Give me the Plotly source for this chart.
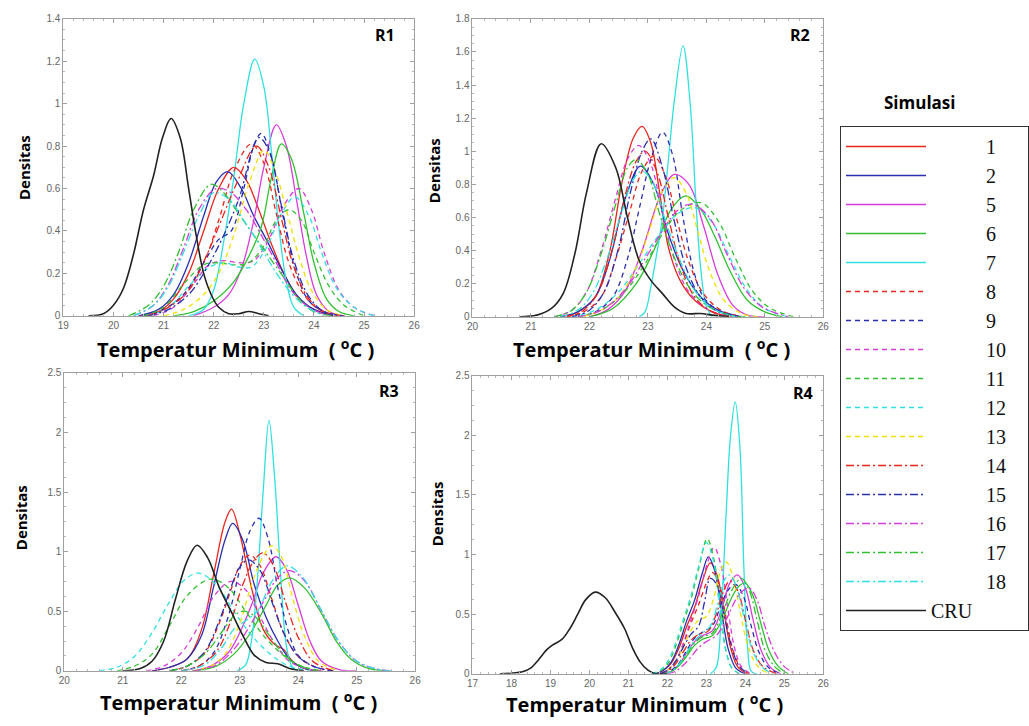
import plotly.graph_objects as go

W, H = 1029, 726

LABELS = ["1", "2", "5", "6", "7", "8", "9", "10", "11", "12", "13",
          "14", "15", "16", "17", "18", "CRU"]
COLORS = ["#e8261e", "#2a2fb0", "#d83cd8", "#30c030", "#30e0e0",
          "#e8261e", "#2a2fb0", "#d83cd8", "#30c030", "#30e0e0", "#f0e000",
          "#e8261e", "#2a2fb0", "#d83cd8", "#30c030", "#30e0e0", "#222222"]
DASHES = ["solid"] * 5 + ["5px,4px"] * 6 + ["8px,3px,2px,3px"] * 5 + ["solid"]

# ---------------- R1 (x, density) ----------------
R1_S1 = [(20.5,0),(20.9,0.02),(21.2,0.08),(21.5,0.2),(21.8,0.4),(22.1,0.6),(22.4,0.7),(22.65,0.64),(22.9,0.5),(23.15,0.34),(23.4,0.2),(23.7,0.08),(24.0,0.03),(24.4,0.0)]
R1_S2 = [(20.5,0),(20.9,0.03),(21.2,0.1),(21.5,0.25),(21.8,0.47),(22.05,0.63),(22.28,0.68),(22.55,0.6),(22.8,0.47),(23.05,0.36),(23.35,0.22),(23.65,0.1),(24.0,0.03),(24.4,0)]
R1_S5 = [(21.6,0),(22.0,0.04),(22.3,0.1),(22.55,0.22),(22.8,0.45),(23.0,0.7),(23.25,0.9),(23.45,0.8),(23.65,0.55),(23.85,0.28),(24.05,0.1),(24.3,0.02),(24.6,0)]
R1_S6 = [(21.2,0),(21.6,0.02),(22.0,0.07),(22.4,0.16),(22.7,0.28),(22.95,0.42),(23.15,0.65),(23.35,0.81),(23.55,0.74),(23.8,0.48),(24.0,0.25),(24.25,0.08),(24.5,0.02),(24.8,0)]
R1_S7 = [(21.5,0),(21.8,0.03),(22.0,0.12),(22.2,0.35),(22.4,0.65),(22.6,1.0),(22.82,1.21),(23.0,1.08),(23.15,0.78),(23.3,0.42),(23.45,0.16),(23.6,0.04),(23.8,0)]
R1_S8 = [(20.6,0),(21.0,0.03),(21.4,0.1),(21.8,0.25),(22.1,0.45),(22.4,0.68),(22.75,0.81),(23.0,0.72),(23.25,0.48),(23.5,0.25),(23.8,0.1),(24.1,0.03),(24.5,0)]
R1_S9 = [(20.6,0),(21.0,0.03),(21.4,0.1),(21.8,0.25),(22.1,0.36),(22.35,0.4),(22.6,0.6),(22.8,0.8),(22.95,0.86),(23.15,0.75),(23.4,0.45),(23.65,0.2),(23.9,0.07),(24.2,0.02),(24.6,0)]
R1_S10 = [(20.8,0),(21.2,0.04),(21.6,0.15),(21.9,0.24),(22.2,0.26),(22.5,0.25),(22.8,0.26),(23.1,0.36),(23.4,0.52),(23.7,0.6),(23.95,0.5),(24.2,0.3),(24.5,0.12),(24.8,0.04),(25.2,0)]
R1_S11 = [(20.6,0),(21.0,0.04),(21.4,0.15),(21.8,0.24),(22.1,0.25),(22.4,0.24),(22.7,0.25),(23.0,0.33),(23.25,0.45),(23.5,0.5),(23.75,0.45),(24.0,0.3),(24.3,0.14),(24.6,0.05),(25.0,0)]
R1_S12 = [(20.7,0),(21.1,0.04),(21.5,0.14),(21.85,0.22),(22.2,0.25),(22.5,0.23),(22.75,0.23),(23.05,0.32),(23.35,0.48),(23.62,0.56),(23.9,0.47),(24.15,0.3),(24.45,0.13),(24.8,0.04),(25.2,0)]
R1_S13 = [(21.0,0),(21.4,0.03),(21.8,0.1),(22.1,0.2),(22.4,0.38),(22.7,0.62),(23.0,0.78),(23.2,0.7),(23.45,0.5),(23.7,0.28),(23.95,0.12),(24.25,0.03),(24.6,0)]
R1_S14 = [(20.7,0),(21.1,0.04),(21.5,0.12),(21.85,0.28),(22.15,0.45),(22.45,0.62),(22.85,0.8),(23.1,0.7),(23.35,0.46),(23.6,0.23),(23.9,0.08),(24.2,0.02),(24.6,0)]
R1_S15 = [(20.7,0),(21.1,0.03),(21.5,0.1),(21.85,0.22),(22.2,0.38),(22.5,0.55),(22.9,0.84),(23.1,0.78),(23.35,0.52),(23.6,0.26),(23.9,0.09),(24.2,0.02),(24.6,0)]
R1_S16 = [(20.4,0),(20.8,0.05),(21.1,0.15),(21.4,0.32),(21.7,0.5),(22.05,0.6),(22.35,0.58),(22.65,0.5),(22.95,0.38),(23.25,0.25),(23.55,0.12),(23.9,0.04),(24.3,0)]
R1_S17 = [(20.3,0),(20.7,0.05),(21.0,0.14),(21.3,0.3),(21.6,0.5),(21.95,0.62),(22.2,0.58),(22.5,0.48),(22.8,0.38),(23.1,0.28),(23.4,0.18),(23.7,0.08),(24.0,0.02),(24.4,0)]
R1_S18 = [(20.4,0),(20.8,0.05),(21.1,0.14),(21.4,0.3),(21.7,0.47),(22.0,0.58),(22.3,0.55),(22.6,0.45),(22.9,0.34),(23.2,0.22),(23.5,0.12),(23.8,0.05),(24.2,0)]
R1_CRU = [(19.5,0),(19.8,0.01),(20.0,0.05),(20.2,0.13),(20.4,0.29),(20.6,0.5),(20.8,0.66),(20.98,0.84),(21.15,0.93),(21.33,0.84),(21.5,0.6),(21.65,0.38),(21.8,0.2),(21.95,0.1),(22.1,0.04),(22.3,0.01),(22.5,0.01),(22.7,0.02),(22.9,0.01),(23.1,0.0)]

# ---------------- R2 ----------------
R2_S1 = [(21.5,0),(21.8,0.03),(22.1,0.12),(22.35,0.4),(22.55,0.8),(22.75,1.08),(22.9,1.15),(23.05,1.05),(23.2,0.75),(23.35,0.42),(23.55,0.22),(23.8,0.1),(24.1,0.03),(24.4,0)]
R2_S2 = [(21.5,0),(21.8,0.03),(22.1,0.12),(22.35,0.35),(22.6,0.7),(22.87,0.91),(23.1,0.8),(23.35,0.5),(23.6,0.28),(23.9,0.12),(24.2,0.04),(24.6,0)]
R2_S5 = [(22.0,0),(22.3,0.04),(22.6,0.15),(22.9,0.4),(23.2,0.72),(23.45,0.86),(23.7,0.8),(23.95,0.55),(24.2,0.25),(24.45,0.07),(24.7,0.01),(25.0,0)]
R2_S6 = [(22.0,0),(22.4,0.05),(22.8,0.2),(23.1,0.4),(23.4,0.65),(23.65,0.73),(23.9,0.65),(24.15,0.48),(24.4,0.28),(24.7,0.1),(25.0,0.03),(25.3,0)]
R2_S7 = [(22.85,0),(22.95,0.03),(23.05,0.18),(23.15,0.38),(23.25,0.6),(23.35,0.95),(23.45,1.3),(23.6,1.636),(23.72,1.3),(23.82,0.7),(23.9,0.3),(24.0,0.06),(24.1,0)]
R2_S8 = [(21.6,0),(21.9,0.03),(22.2,0.12),(22.45,0.35),(22.7,0.65),(22.9,0.88),(23.1,0.97),(23.3,0.85),(23.5,0.58),(23.7,0.33),(23.95,0.14),(24.25,0.04),(24.6,0)]
R2_S9 = [(21.8,0),(22.1,0.03),(22.4,0.12),(22.65,0.35),(22.85,0.65),(23.05,0.95),(23.25,1.115),(23.42,0.98),(23.6,0.6),(23.78,0.28),(23.95,0.12),(24.2,0.04),(24.6,0)]
R2_S10 = [(21.4,0),(21.7,0.04),(21.95,0.15),(22.2,0.4),(22.45,0.72),(22.65,0.95),(22.84,1.035),(23.05,0.92),(23.25,0.62),(23.45,0.35),(23.7,0.15),(24.0,0.05),(24.4,0)]
R2_S11 = [(21.8,0),(22.2,0.04),(22.6,0.15),(22.95,0.32),(23.25,0.5),(23.55,0.64),(23.9,0.69),(24.2,0.58),(24.5,0.35),(24.8,0.15),(25.1,0.05),(25.5,0)]
R2_S12 = [(21.7,0),(22.1,0.04),(22.5,0.15),(22.85,0.32),(23.2,0.5),(23.5,0.62),(23.8,0.66),(24.1,0.57),(24.4,0.36),(24.7,0.16),(25.0,0.05),(25.4,0)]
R2_S13 = [(21.9,0),(22.2,0.04),(22.5,0.12),(22.8,0.3),(23.05,0.55),(23.25,0.76),(23.45,0.84),(23.65,0.75),(23.85,0.52),(24.05,0.28),(24.3,0.1),(24.6,0.02),(24.9,0)]
R2_S14 = [(21.6,0),(21.9,0.04),(22.15,0.15),(22.4,0.42),(22.6,0.72),(22.8,0.94),(22.95,1.0),(23.15,0.88),(23.35,0.6),(23.55,0.32),(23.8,0.12),(24.1,0.03),(24.5,0)]
R2_S15 = [(21.7,0),(22.0,0.04),(22.25,0.15),(22.5,0.42),(22.7,0.75),(22.9,1.0),(23.05,1.075),(23.25,0.9),(23.45,0.58),(23.65,0.3),(23.9,0.12),(24.2,0.03),(24.6,0)]
R2_S16 = [(21.8,0),(22.2,0.04),(22.6,0.16),(22.95,0.35),(23.25,0.52),(23.5,0.64),(23.75,0.68),(24.05,0.6),(24.35,0.38),(24.65,0.17),(24.95,0.06),(25.4,0)]
R2_S17 = [(21.4,0),(21.7,0.04),(21.95,0.15),(22.2,0.38),(22.45,0.68),(22.65,0.9),(22.8,0.95),(23.0,0.86),(23.2,0.62),(23.45,0.36),(23.7,0.18),(24.0,0.07),(24.4,0.01),(24.8,0)]
R2_S18 = [(21.5,0),(21.8,0.04),(22.05,0.14),(22.3,0.35),(22.55,0.63),(22.75,0.83),(22.9,0.88),(23.1,0.8),(23.3,0.58),(23.55,0.34),(23.8,0.16),(24.1,0.05),(24.5,0)]
R2_CRU = [(20.8,0),(21.1,0.01),(21.35,0.05),(21.55,0.14),(21.75,0.38),(21.95,0.75),(22.2,1.045),(22.45,0.9),(22.65,0.6),(22.85,0.34),(23.05,0.22),(23.25,0.14),(23.45,0.06),(23.65,0.02),(23.9,0.02),(24.1,0.01),(24.4,0)]

# ---------------- R3 ----------------
R3_S1 = [(21.5,0),(21.8,0.03),(22.1,0.1),(22.35,0.35),(22.55,0.8),(22.75,1.25),(22.86,1.356),(23.0,1.15),(23.2,0.7),(23.4,0.35),(23.6,0.22),(23.75,0.18),(23.9,0.08),(24.1,0.02),(24.4,0)]
R3_S2 = [(21.5,0),(21.8,0.03),(22.1,0.1),(22.35,0.3),(22.55,0.7),(22.75,1.1),(22.88,1.237),(23.05,1.1),(23.25,0.72),(23.45,0.45),(23.65,0.25),(23.85,0.1),(24.05,0.03),(24.3,0)]
R3_S5 = [(22.2,0),(22.5,0.04),(22.8,0.15),(23.0,0.32),(23.2,0.55),(23.4,0.82),(23.62,0.957),(23.8,0.85),(24.0,0.55),(24.2,0.25),(24.4,0.08),(24.7,0.01),(25.0,0)]
R3_S6 = [(22.2,0),(22.6,0.04),(22.9,0.14),(23.2,0.33),(23.45,0.55),(23.65,0.72),(23.85,0.78),(24.1,0.7),(24.4,0.48),(24.65,0.25),(24.9,0.1),(25.2,0.02),(25.5,0)]
R3_S7 = [(22.95,0),(23.1,0.05),(23.2,0.25),(23.3,0.75),(23.4,1.5),(23.5,2.1),(23.6,1.6),(23.7,0.8),(23.8,0.2),(23.9,0.03),(24.0,0)]
R3_S8 = [(21.8,0),(22.1,0.04),(22.4,0.15),(22.65,0.4),(22.85,0.68),(23.0,0.88),(23.17,0.97),(23.35,0.88),(23.55,0.6),(23.75,0.32),(24.0,0.12),(24.3,0.03),(24.6,0)]
R3_S9 = [(22.0,0),(22.3,0.04),(22.55,0.15),(22.8,0.45),(23.0,0.85),(23.18,1.18),(23.33,1.28),(23.48,1.12),(23.65,0.7),(23.82,0.35),(24.0,0.13),(24.3,0.03),(24.6,0)]
R3_S10 = [(21.4,0),(21.7,0.04),(22.0,0.15),(22.3,0.38),(22.55,0.62),(22.85,0.75),(23.1,0.68),(23.35,0.45),(23.6,0.23),(23.85,0.08),(24.2,0.01),(24.5,0)]
R3_S11 = [(20.9,0),(21.2,0.04),(21.5,0.14),(21.8,0.38),(22.1,0.63),(22.5,0.77),(22.8,0.7),(23.1,0.5),(23.4,0.3),(23.7,0.15),(24.0,0.05),(24.4,0)]
R3_S12 = [(20.6,0),(20.9,0.03),(21.2,0.12),(21.5,0.32),(21.8,0.58),(22.05,0.76),(22.3,0.82),(22.6,0.72),(22.9,0.5),(23.2,0.3),(23.5,0.15),(23.8,0.05),(24.2,0)]
R3_S13 = [(22.2,0),(22.5,0.04),(22.75,0.14),(23.0,0.4),(23.2,0.72),(23.4,0.96),(23.55,1.05),(23.72,0.95),(23.9,0.62),(24.1,0.3),(24.35,0.08),(24.7,0)]
R3_S14 = [(22.0,0),(22.3,0.04),(22.6,0.16),(22.85,0.42),(23.05,0.72),(23.25,0.93),(23.4,0.99),(23.58,0.88),(23.78,0.58),(24.0,0.28),(24.25,0.08),(24.6,0)]
R3_S15 = [(21.8,0),(22.1,0.04),(22.4,0.16),(22.65,0.42),(22.85,0.7),(23.0,0.87),(23.15,0.93),(23.35,0.84),(23.55,0.58),(23.75,0.32),(24.0,0.12),(24.3,0.03),(24.6,0)]
R3_S16 = [(22.2,0),(22.6,0.05),(22.9,0.18),(23.2,0.4),(23.45,0.62),(23.65,0.78),(23.85,0.84),(24.1,0.76),(24.4,0.5),(24.7,0.24),(25.0,0.08),(25.3,0.02),(25.6,0)]
R3_S17 = [(21.8,0),(22.1,0.04),(22.4,0.14),(22.7,0.33),(22.9,0.46),(23.05,0.5),(23.25,0.46),(23.5,0.3),(23.75,0.14),(24.0,0.05),(24.3,0)]
R3_S18 = [(22.0,0),(22.4,0.05),(22.7,0.2),(22.9,0.35),(23.1,0.42),(23.3,0.5),(23.55,0.75),(23.8,0.88),(24.05,0.8),(24.35,0.55),(24.65,0.28),(24.95,0.1),(25.3,0.02),(25.6,0)]
R3_CRU = [(21.0,0),(21.3,0.02),(21.5,0.08),(21.7,0.25),(21.9,0.6),(22.1,0.92),(22.27,1.054),(22.45,0.95),(22.65,0.7),(22.85,0.5),(23.05,0.3),(23.25,0.13),(23.45,0.07),(23.65,0.06),(23.85,0.02),(24.1,0)]

# ---------------- R4 ----------------
R4_S1 = [(21.7,0),(21.9,0.03),(22.1,0.09),(22.3,0.22),(22.5,0.4),(22.7,0.56),(22.9,0.78),(23.1,0.93),(23.28,0.82),(23.45,0.52),(23.62,0.22),(23.8,0.06),(24.05,0)]
R4_S2 = [(21.7,0),(21.9,0.03),(22.1,0.1),(22.3,0.25),(22.5,0.45),(22.7,0.62),(22.9,0.85),(23.05,0.98),(23.2,0.88),(23.38,0.55),(23.55,0.22),(23.75,0.05),(24.0,0)]
R4_S5 = [(21.9,0),(22.1,0.02),(22.3,0.08),(22.5,0.18),(22.7,0.27),(22.9,0.32),(23.15,0.36),(23.4,0.55),(23.6,0.76),(23.8,0.83),(24.0,0.72),(24.2,0.45),(24.4,0.2),(24.65,0.05),(24.9,0)]
R4_S6 = [(21.9,0),(22.1,0.02),(22.3,0.07),(22.5,0.15),(22.7,0.24),(22.9,0.29),(23.15,0.32),(23.4,0.45),(23.65,0.64),(23.85,0.74),(24.0,0.76),(24.2,0.65),(24.4,0.42),(24.6,0.2),(24.85,0.06),(25.1,0)]
R4_S7 = [(23.1,0),(23.25,0.05),(23.38,0.5),(23.5,1.3),(23.62,2.0),(23.74,2.28),(23.86,1.9),(23.96,0.9),(24.05,0.25),(24.15,0.02),(24.3,0)]
R4_S8 = [(21.8,0),(22.0,0.03),(22.2,0.1),(22.4,0.24),(22.6,0.42),(22.8,0.58),(23.0,0.76),(23.15,0.85),(23.32,0.76),(23.5,0.48),(23.68,0.2),(23.88,0.05),(24.1,0)]
R4_S9 = [(21.9,0),(22.1,0.03),(22.3,0.09),(22.5,0.2),(22.7,0.3),(22.9,0.35),(23.15,0.4),(23.4,0.6),(23.6,0.72),(23.75,0.75),(23.95,0.65),(24.15,0.4),(24.35,0.18),(24.6,0.05),(24.9,0)]
R4_S10 = [(21.8,0),(22.0,0.03),(22.2,0.1),(22.4,0.25),(22.6,0.45),(22.8,0.65),(23.0,0.9),(23.2,1.06),(23.38,0.9),(23.55,0.55),(23.72,0.22),(23.9,0.06),(24.15,0)]
R4_S11 = [(21.6,0),(21.8,0.02),(22.0,0.08),(22.2,0.22),(22.4,0.42),(22.6,0.62),(22.8,0.88),(23.02,1.133),(23.2,0.95),(23.35,0.55),(23.5,0.2),(23.65,0.05),(23.85,0)]
R4_S12 = [(21.6,0),(21.8,0.03),(22.0,0.1),(22.2,0.25),(22.4,0.45),(22.6,0.65),(22.8,0.9),(23.0,1.1),(23.18,0.95),(23.33,0.58),(23.48,0.22),(23.65,0.05),(23.85,0)]
R4_S13 = [(21.8,0),(22.0,0.03),(22.2,0.1),(22.4,0.22),(22.6,0.36),(22.8,0.45),(23.0,0.48),(23.2,0.65),(23.35,0.85),(23.5,0.94),(23.65,0.85),(23.85,0.55),(24.05,0.25),(24.3,0.07),(24.6,0)]
R4_S14 = [(21.8,0),(22.0,0.02),(22.2,0.08),(22.4,0.18),(22.6,0.28),(22.8,0.33),(23.05,0.36),(23.25,0.5),(23.45,0.7),(23.6,0.78),(23.8,0.7),(24.0,0.45),(24.2,0.2),(24.45,0.06),(24.8,0)]
R4_S15 = [(21.8,0),(22.0,0.03),(22.2,0.1),(22.4,0.22),(22.6,0.33),(22.8,0.4),(22.95,0.6),(23.1,0.8),(23.28,0.74),(23.45,0.5),(23.65,0.22),(23.85,0.06),(24.1,0)]
R4_S16 = [(22.0,0),(22.2,0.02),(22.4,0.07),(22.6,0.14),(22.8,0.22),(23.0,0.27),(23.25,0.32),(23.5,0.45),(23.75,0.62),(23.95,0.7),(24.1,0.72),(24.3,0.62),(24.5,0.4),(24.75,0.18),(25.0,0.06),(25.3,0)]
R4_S17 = [(21.9,0),(22.1,0.02),(22.3,0.08),(22.5,0.17),(22.7,0.26),(22.9,0.31),(23.15,0.34),(23.4,0.5),(23.65,0.7),(23.9,0.8),(24.1,0.7),(24.3,0.45),(24.5,0.2),(24.75,0.06),(25.0,0)]
R4_S18 = [(21.9,0),(22.1,0.02),(22.3,0.08),(22.5,0.18),(22.7,0.28),(22.9,0.34),(23.1,0.4),(23.3,0.6),(23.45,0.78),(23.6,0.83),(23.78,0.72),(23.98,0.45),(24.2,0.18),(24.45,0.05),(24.7,0)]
R4_CRU = [(17.7,0),(18.0,0.005),(18.3,0.02),(18.5,0.05),(18.7,0.12),(18.9,0.2),(19.05,0.24),(19.3,0.29),(19.5,0.38),(19.7,0.5),(19.9,0.62),(20.15,0.685),(20.4,0.64),(20.65,0.52),(20.9,0.38),(21.1,0.22),(21.3,0.1),(21.5,0.03),(21.7,0.0),(22.0,0.0)]

PANELS = [
    ("R1", [R1_S1, R1_S2, R1_S5, R1_S6, R1_S7, R1_S8, R1_S9, R1_S10, R1_S11, R1_S12, R1_S13, R1_S14, R1_S15, R1_S16, R1_S17, R1_S18, R1_CRU]),
    ("R2", [R2_S1, R2_S2, R2_S5, R2_S6, R2_S7, R2_S8, R2_S9, R2_S10, R2_S11, R2_S12, R2_S13, R2_S14, R2_S15, R2_S16, R2_S17, R2_S18, R2_CRU]),
    ("R3", [R3_S1, R3_S2, R3_S5, R3_S6, R3_S7, R3_S8, R3_S9, R3_S10, R3_S11, R3_S12, R3_S13, R3_S14, R3_S15, R3_S16, R3_S17, R3_S18, R3_CRU]),
    ("R4", [R4_S1, R4_S2, R4_S5, R4_S6, R4_S7, R4_S8, R4_S9, R4_S10, R4_S11, R4_S12, R4_S13, R4_S14, R4_S15, R4_S16, R4_S17, R4_S18, R4_CRU]),
]
X_RANGES = [[19, 26], [20, 26], [20, 26], [17, 26]]
Y_RANGES = [[0, 1.4], [0, 1.8], [0, 2.5], [0, 2.5]]
Y_DTICK = [0.2, 0.2, 0.5, 0.5]

# panel boxes in pixels: left, right, top, bottom
BOXES = [(58, 413, 13, 315), (472, 827, 13, 316), (59, 414, 373, 676), (472, 827, 376, 679)]

NB = "\u00a0"

fig = go.Figure()

for p, (name, series) in enumerate(PANELS):
    ax = "" if p == 0 else str(p + 1)
    for i, pts in enumerate(series):
        xs = [a for a, b in pts]
        ys = [b for a, b in pts]
        is_cru = LABELS[i] == "CRU"
        lab = LABELS[i] + NB * 10 if is_cru else NB * 11 + LABELS[i]
        fig.add_trace(go.Scatter(
            x=xs, y=ys, mode="lines", name=lab,
            line=dict(color=COLORS[i], dash=DASHES[i], width=1.6 if is_cru else 1.3,
                      shape="spline", smoothing=1.0),
            xaxis="x" + ax, yaxis="y" + ax,
            legendgroup=LABELS[i], showlegend=(p == 0),
            hoverinfo="skip",
        ))

def px_x(v):
    return v / W

def px_y(v):
    return 1 - v / H

layout = dict(
    width=W, height=H, margin=dict(l=0, r=0, t=0, b=0),
    paper_bgcolor="white", plot_bgcolor="white",
    showlegend=True,
    legend=dict(x=px_x(844), y=px_y(122), xanchor="left", yanchor="top",
                bordercolor="#333", borderwidth=1, bgcolor="white",
                font=dict(family="Liberation Serif", size=20, color="#111"),
                itemwidth=80, tracegroupgap=0),
)

tickfont = dict(family="Liberation Sans", size=10, color="#666")
for p in range(4):
    l, r, t, b = BOXES[p]
    ax = "" if p == 0 else str(p + 1)
    common = dict(showline=True, linecolor="#a0a0a0", linewidth=1, mirror="ticks",
                  ticks="inside", ticklen=4, tickcolor="#a0a0a0", showgrid=False,
                  zeroline=False, tickfont=tickfont)
    layout["xaxis" + ax] = dict(common, domain=[px_x(l), px_x(r)], range=X_RANGES[p],
                                dtick=1, anchor="y" + ax,
                                minor=dict(dtick=0.2, ticks="inside", ticklen=2, tickcolor="#b8b8b8"))
    layout["yaxis" + ax] = dict(common, domain=[px_y(b), px_y(t)], range=Y_RANGES[p],
                                dtick=Y_DTICK[p], anchor="x" + ax,
                                minor=dict(dtick=Y_DTICK[p] / 4, ticks="inside", ticklen=2, tickcolor="#b8b8b8"))

fig.update_layout(**layout)

xtitle = "<b>Temperatur Minimum  ( <sup>o</sup>C )</b>"
ann = []

def add_text(text, x, y, size, angle=0):
    ann.append(dict(text=text, x=px_x(x), y=px_y(y), xref="paper", yref="paper",
                    xanchor="center", yanchor="middle", showarrow=False, textangle=angle,
                    font=dict(family="Open Sans", size=size, color="black")))

for name, (x, y) in zip(["R1", "R2", "R3", "R4"], [(383, 29), (803, 29), (388, 391), (806, 393)]):
    add_text("<b>" + name + "</b>", x, y, 16)
for (x, y) in [(18, 164), (433, 167), (16, 520), (437, 516)]:
    add_text("<b>Densitas</b>", x, y, 15, -90)
for (x, y) in [(232, 348), (653, 348), (235, 707), (646, 709)]:
    add_text(xtitle, x, y, 20)
add_text("<b>Simulasi</b>", 925, 98, 17)
fig.update_layout(annotations=ann)

fig.write_html("out.html")
